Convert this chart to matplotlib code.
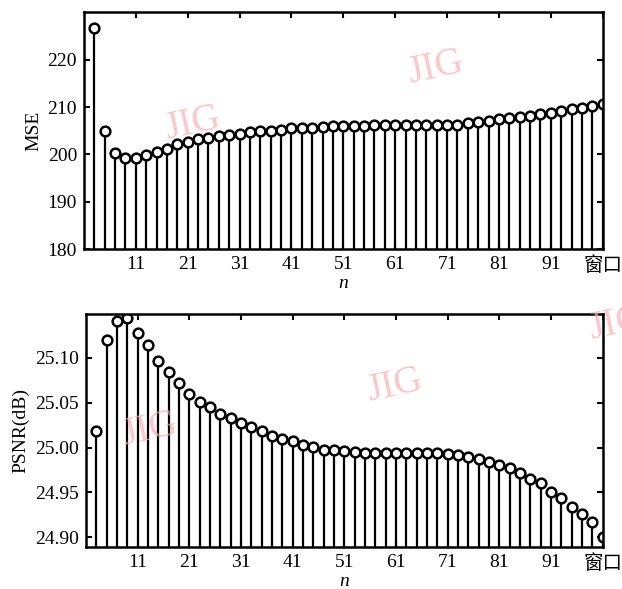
import numpy as np
import matplotlib
matplotlib.use('Agg')
import matplotlib.pyplot as plt

plt.rcParams['font.family'] = ['Liberation Serif', 'Noto Sans CJK SC', 'DejaVu Sans']
plt.rcParams['font.size'] = 14

# window sizes n
n = list(range(3, 102, 2))

mse = [226.8, 204.9, 200.2, 199.3, 199.2, 199.9, 200.6, 201.2, 202.2, 202.7,
       203.2, 203.4, 203.9, 204.1, 204.4, 204.7, 205.0, 205.0, 205.2, 205.5,
       205.5, 205.6, 205.7, 205.9, 206.0, 206.1, 206.1, 206.2, 206.2, 206.2,
       206.2, 206.2, 206.2, 206.2, 206.2, 206.3, 206.6, 206.9, 207.1, 207.4,
       207.7, 207.9, 208.2, 208.5, 208.8, 209.1, 209.5, 209.8, 210.2, 210.7]

psnr = [25.018, 25.120, 25.141, 25.145, 25.128, 25.114, 25.096, 25.084, 25.072, 25.060,
        25.051, 25.045, 25.037, 25.033, 25.027, 25.023, 25.018, 25.013, 25.010, 25.007,
        25.003, 25.001, 24.997, 24.997, 24.996, 24.995, 24.994, 24.994, 24.994, 24.994,
        24.994, 24.994, 24.994, 24.994, 24.993, 24.992, 24.990, 24.987, 24.984, 24.981,
        24.977, 24.972, 24.965, 24.960, 24.951, 24.944, 24.934, 24.926, 24.917, 24.900]

xticks = [11, 21, 31, 41, 51, 61, 71, 81, 91, 101]
xticklabels = ['11', '21', '31', '41', '51', '61', '71', '81', '91', '窗口']

fig = plt.figure(figsize=(6.22, 5.89), dpi=100)
ax1 = fig.add_axes([0.135, 0.577, 0.834, 0.402])
ax2 = fig.add_axes([0.138, 0.071, 0.831, 0.396])


def draw(ax, y, ylim, yticks, yticklabels, ylabel):
    ax.vlines(n, 0, y, colors='black', linewidth=1.6)
    ax.plot(n, y, 'o', markersize=7, markerfacecolor='white',
            markeredgecolor='black', markeredgewidth=1.8)
    ax.set_xlim(1, 101)
    ax.set_ylim(*ylim)
    ax.set_yticks(yticks)
    ax.set_yticklabels(yticklabels)
    ax.set_xticks(xticks)
    ax.set_xticklabels(xticklabels)
    ax.tick_params(direction='in', top=True, right=True, length=4, width=1.5, pad=5)
    for s in ax.spines.values():
        s.set_linewidth(1.8)
    ax.set_ylabel(ylabel, labelpad=4)
    ax.set_xlabel('n', fontstyle='italic', labelpad=0)


draw(ax1, mse, (180, 230), [180, 190, 200, 210, 220],
     ['180', '190', '200', '210', '220'], 'MSE')
draw(ax2, psnr, (24.889, 25.149), [24.90, 24.95, 25.00, 25.05, 25.10],
     ['24.90', '24.95', '25.00', '25.05', '25.10'], 'PSNR(dB)')

# watermarks
for (wx, wy) in [(0.31, 0.79), (0.70, 0.885), (0.24, 0.27), (0.635, 0.345), (0.992, 0.45)]:
    fig.text(wx, wy, 'JIG', color='#f7b0b0', alpha=0.7, fontsize=28,
             rotation=12, ha='center', va='center', zorder=10)

fig.savefig('out.png', dpi=100)
